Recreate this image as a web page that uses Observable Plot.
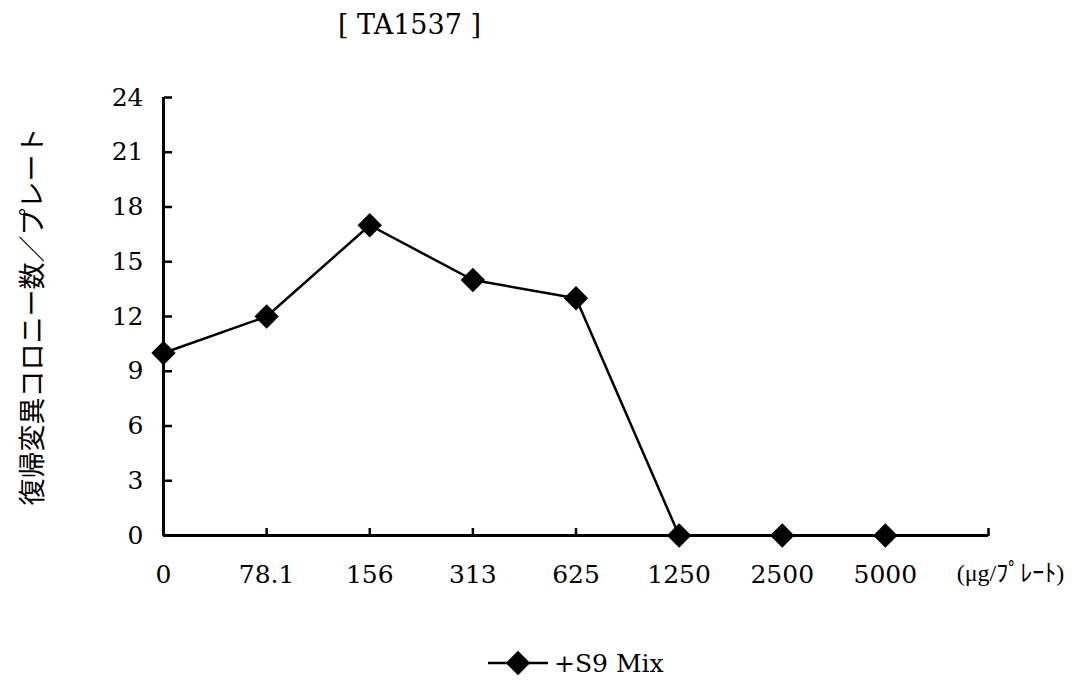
<!DOCTYPE html>
<html>
<head>
<meta charset="utf-8">
<script src="https://cdn.jsdelivr.net/npm/d3@7"></script>
<script src="https://cdn.jsdelivr.net/npm/@observablehq/plot@0.6"></script>
<style>
  html, body { margin: 0; padding: 0; background: #fff; }
  #wrap { position: relative; width: 1077px; height: 685px; overflow: hidden; }
  #title { position: absolute; left: 338px; top: 9px; font-family: "DejaVu Serif", serif; font-size: 27px; color: #000; white-space: pre; }
  #legend { position: absolute; left: 486px; top: 648px; display: flex; align-items: center; font-family: "DejaVu Serif", serif; font-size: 25px; color: #000; }
  #chart { position: absolute; left: 0; top: 0; }
</style>
</head>
<body>
<div id="wrap">
  <div id="chart"></div>
  <div id="title"></div>
  <div id="legend"></div>
</div>
<script>
const titleText = "[ TA1537 ]";
const doses = ["0", "78.1", "156", "313", "625", "1250", "2500", "5000"];
const counts = [10, 12, 17, 14, 13, 0, 0, 0];
const yTicks = [0, 3, 6, 9, 12, 15, 18, 21, 24];
const yLabel = "復帰変異コロニー数／プレート";
const unitLabel = "(μg/ﾌﾟﾚｰﾄ)";
const seriesName = "+S9 Mix";

const data = doses.map((d, i) => ({i, dose: d, count: counts[i]}));
const xTicks = d3.range(doses.length + 1);
const serif = "DejaVu Serif, serif";

const plot = Plot.plot({
  width: 1077,
  height: 600,
  marginTop: 97,
  marginBottom: 65,
  marginLeft: 163,
  marginRight: 89,
  style: {background: "transparent", color: "#000"},
  x: {type: "linear", domain: [0, doses.length], axis: null},
  y: {domain: [0, 24], axis: null},
  marks: [
    // tick labels
    Plot.axisX({ticks: d3.range(doses.length), tickFormat: i => doses[i], tickSize: 0, tickPadding: 30, fontSize: 25, fontFamily: serif, label: null}),
    Plot.axisY({ticks: yTicks, tickSize: 0, tickPadding: 20, fontSize: 25, fontFamily: serif, label: null}),
    // inward ticks
    Plot.axisX({anchor: "top", frameAnchor: "bottom", ticks: xTicks, tickSize: 8, strokeWidth: 2.5, text: null, label: null}),
    Plot.axisY({anchor: "right", frameAnchor: "left", ticks: yTicks, tickSize: 8, strokeWidth: 2.5, text: null, label: null}),
    // axis lines
    Plot.ruleX([0], {stroke: "#000", strokeWidth: 3}),
    Plot.ruleY([0], {stroke: "#000", strokeWidth: 3}),
    // y label
    Plot.text([yLabel], {frameAnchor: "left", textAnchor: "middle", rotate: -90, dx: -130, fontSize: 27, fontFamily: "Noto Sans CJK JP, sans-serif", fill: "#000"}),
    // unit label
    Plot.text([unitLabel], {x: () => doses.length, frameAnchor: "bottom", dx: 22, dy: 45, fontSize: 24, fontFamily: "Liberation Serif, Noto Sans CJK JP, serif", fill: "#000"}),
    // data
    Plot.line(data, {x: "i", y: "count", stroke: "#000", strokeWidth: 2.5}),
    Plot.dot(data, {x: "i", y: "count", symbol: "diamond2", r: 11, fill: "#000", stroke: "none"})
  ]
});
document.getElementById("chart").appendChild(plot);
document.getElementById("title").textContent = titleText;

const legend = document.getElementById("legend");
const sw = d3.create("svg").attr("width", 64).attr("height", 30);
sw.append("line").attr("x1", 2).attr("x2", 62).attr("y1", 15).attr("y2", 15).attr("stroke", "#000").attr("stroke-width", 2.5);
sw.append("path").attr("d", d3.symbol(d3.symbolDiamond2, 380)()).attr("transform", "translate(32,15)").attr("fill", "#000");
legend.appendChild(sw.node());
const lt = document.createElement("span");
lt.style.marginLeft = "4px";
lt.textContent = seriesName;
legend.appendChild(lt);
</script>
</body>
</html>
